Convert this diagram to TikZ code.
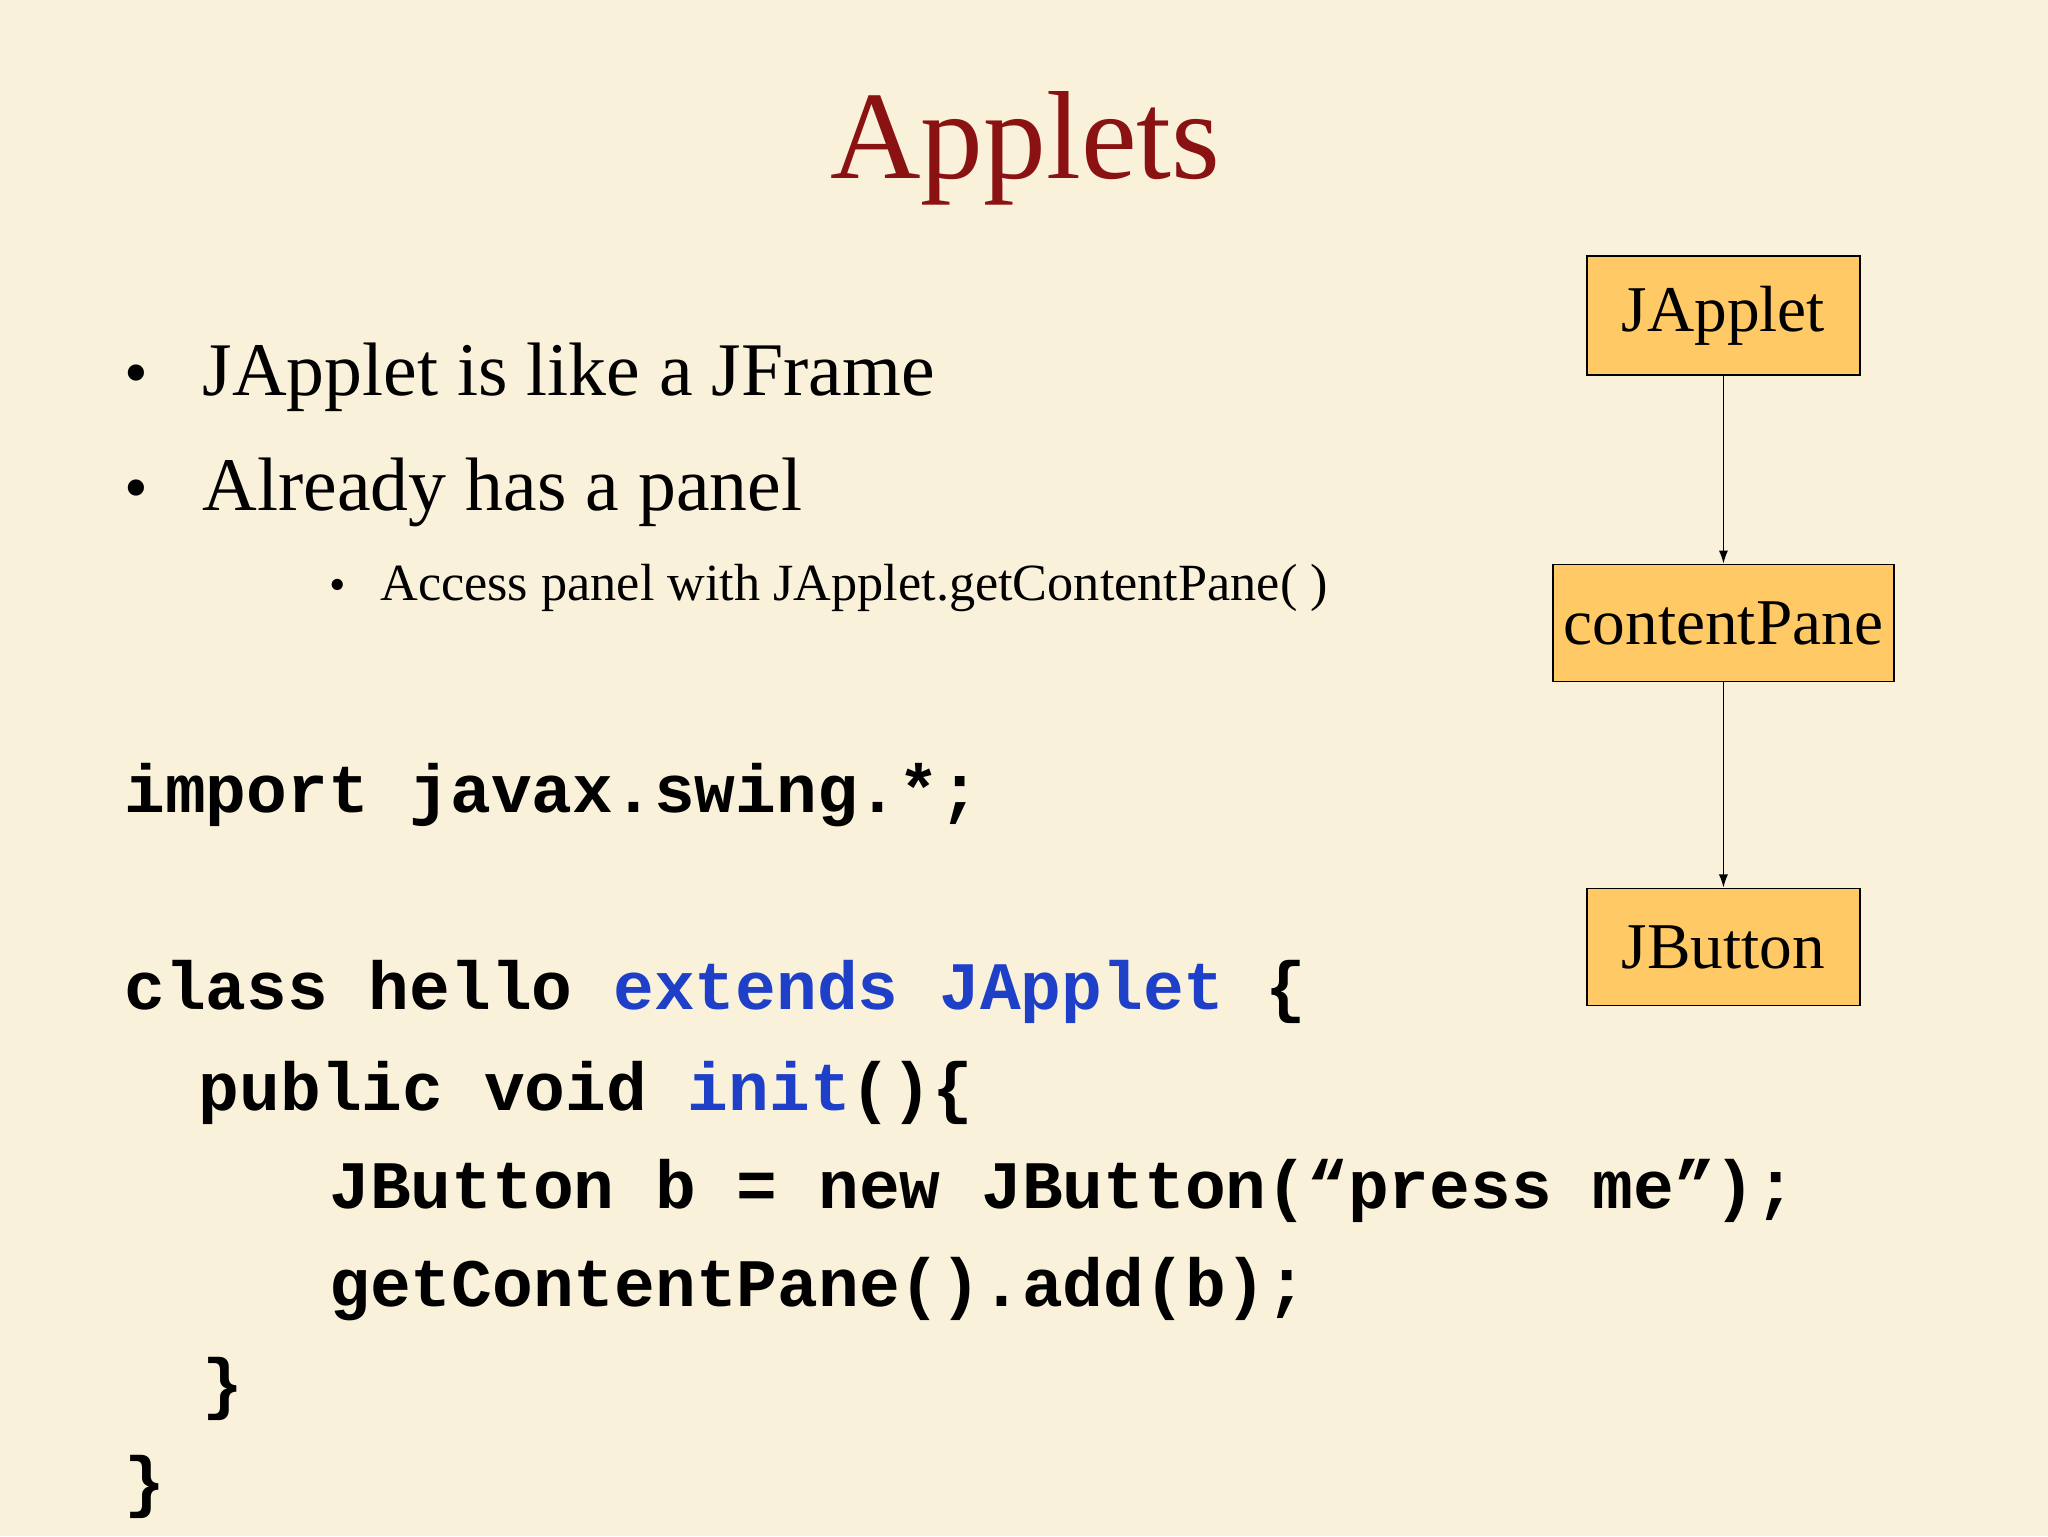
\documentclass[tikz,border=0pt]{standalone}
\usepackage{fontspec}
\usetikzlibrary{arrows.meta}
\setmainfont{Liberation Serif}
\setmonofont{Liberation Mono}
\definecolor{bg}{HTML}{FAF1DA}
\definecolor{ttl}{HTML}{8B1212}
\definecolor{boxf}{HTML}{FFC966}
\definecolor{kw}{HTML}{1E3FC8}
\begin{document}
\begin{tikzpicture}[x=1pt,y=-1pt,
  t/.style={anchor=base west,inner sep=0pt},
  code/.style={t,font=\fontsize{52}{52}\selectfont\ttfamily\bfseries},
  cls/.style={draw=black,fill=boxf,line width=1pt,inner sep=0pt,font=\fontsize{50}{50}\selectfont},
  arr/.style={-{Latex[length=10pt,width=7pt]},line width=1pt}]
\useasboundingbox[fill=bg] (0,0) rectangle (1568,1176);
\node[inner sep=0pt,anchor=base,text=ttl,font=\fontsize{96}{96}\selectfont] (title) at (785,137) {Applets};
\node[t,font=\fontsize{52}{52}\selectfont] (b1d) at (95,303) {•};
\node[t,font=\fontsize{58}{58}\selectfont] (b1) at (155,303) {JApplet is like a JFrame};
\node[t,font=\fontsize{52}{52}\selectfont] (b2d) at (95,391) {•};
\node[t,font=\fontsize{58}{58}\selectfont] (b2) at (155,391) {Already has a panel};
\node[t,font=\fontsize{36}{36}\selectfont] (b3d) at (252,460) {•};
\node[t,font=\fontsize{40}{40}\selectfont] (b3) at (291,460) {Access panel with JApplet.getContentPane( )};
\node[code] (c1) at (95,622) {import javax.swing.*;};
\node[code] (c2) at (95,773) {class hello \textcolor{kw}{extends JApplet} \{};
\node[code] (c3) at (152,850) {public void \textcolor{kw}{init}()\{};
\node[code] (c4) at (252,925) {JButton b = new JButton(“press me”);};
\node[code] (c5) at (252,1000) {getContentPane().add(b);};
\node[code] (c6) at (155,1077) {\}};
\node[code] (c7) at (95,1152) {\}};
\node[cls,minimum width=209pt,minimum height=91pt] (ja) at (1319.5,241.5) {JApplet};
\node[cls,minimum width=261pt,minimum height=90pt] (cp) at (1319.5,477) {contentPane};
\node[cls,minimum width=209pt,minimum height=90pt] (jb) at (1319.5,725) {JButton};
\draw[arr] (ja) -- (cp);
\draw[arr] (cp) -- (jb);
\end{tikzpicture}
\end{document}
